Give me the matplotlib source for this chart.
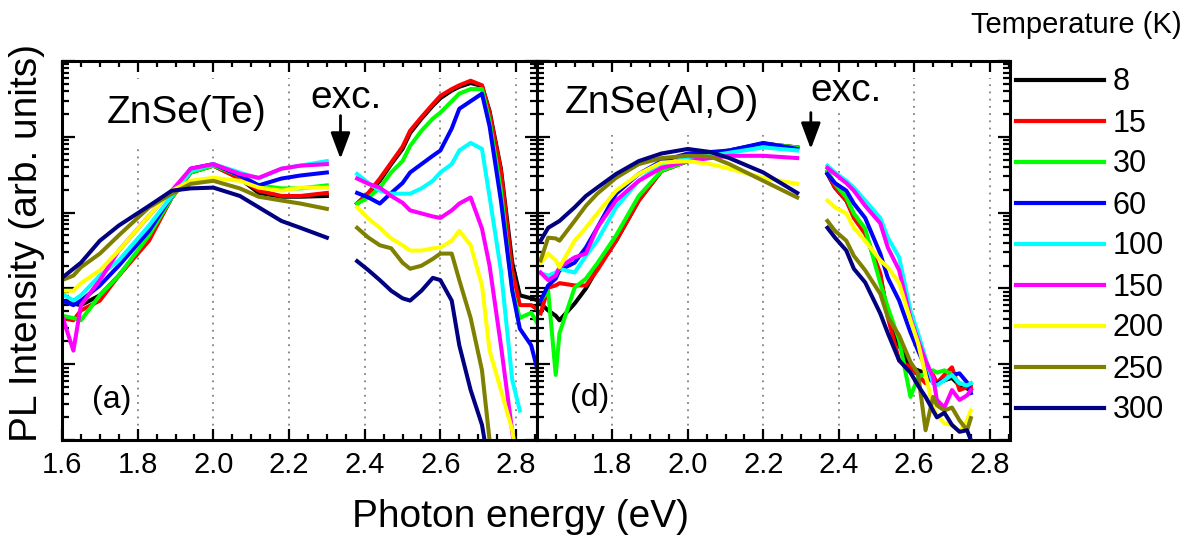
import numpy as np
import matplotlib
matplotlib.use("Agg")
import matplotlib.pyplot as plt
from matplotlib.ticker import LogLocator, MultipleLocator, NullFormatter, FixedLocator
from matplotlib.lines import Line2D

plt.rcParams['font.family'] = ['Liberation Sans', 'DejaVu Sans']

nan = np.nan
temps = ['8', '15', '30', '60', '100', '150', '200', '250', '300']
colors = ['black', 'red', '#00ff00', 'blue', 'cyan', 'magenta', 'yellow', '#808000', '#000080']

# ZnSe(Te): photon energy (eV) and log10 PL intensity; nan = excitation gap
te_energy = [1.60, 1.63, 1.65, 1.70, 1.75, 1.83, 1.89, 1.94, 2.00, 2.07, 2.12, 2.18, 2.23, 2.30,
             2.34,
             2.38, 2.41, 2.44, 2.47, 2.50, 2.52, 2.55, 2.58, 2.60, 2.63, 2.65, 2.68, 2.71, 2.73,
             2.76, 2.79, 2.81, 2.84, 2.86]
te_8 = [1.84, 1.80, 1.78, 1.91, 2.17, 2.66, 3.20, 3.53, 3.62, 3.45, 3.26, 3.21, 3.21, 3.22, nan,
        3.12, 3.26, 3.42, 3.64, 3.84, 4.05, 4.24, 4.41, 4.51, 4.61, 4.66, 4.71, 4.67, 4.34,
        3.58, 2.34, 1.91, 1.87, 1.84]
te_15 = [1.61, 1.58, 1.71, 1.84, 2.17, 2.63, 3.20, 3.53, 3.62, 3.45, 3.29, 3.22, 3.22, 3.26, nan,
         3.12, 3.26, 3.45, 3.66, 3.87, 4.08, 4.26, 4.43, 4.54, 4.63, 4.68, 4.74, 4.68, 4.32,
         3.55, 2.24, 1.78, 1.78, 1.71]
te_30 = [1.64, 1.61, 1.58, 1.91, 2.17, 2.70, 3.20, 3.53, 3.62, 3.49, 3.36, 3.32, 3.32, 3.36, nan,
         3.12, 3.20, 3.33, 3.53, 3.68, 3.88, 4.08, 4.24, 4.32, 4.47, 4.57, 4.63, 4.63, 4.21,
         3.29, 1.97, 1.61, 1.68, 1.51]
te_60 = [1.84, 1.78, 1.84, 2.04, 2.30, 2.76, 3.22, 3.58, 3.64, 3.49, 3.36, 3.45, 3.49, 3.53, nan,
         3.26, 3.20, 3.12, 3.26, 3.39, 3.53, 3.64, 3.75, 3.82, 4.11, 4.37, 4.47, 4.57, 4.14,
         3.16, 1.97, 1.47, 1.25, 0.86]
te_100 = [1.93, 1.84, 1.91, 2.17, 2.37, 2.83, 3.22, 3.55, 3.64, 3.53, 3.45, 3.58, 3.62, 3.68, nan,
          3.51, 3.39, 3.29, 3.25, 3.25, 3.25, 3.32, 3.42, 3.53, 3.64, 3.82, 3.92, 3.84, 3.21,
          2.24, 0.79, 0.39, nan, nan]
te_150 = [1.64, 1.18, 1.78, 2.11, 2.50, 2.96, 3.29, 3.58, 3.64, 3.51, 3.46, 3.58, 3.62, 3.64, nan,
          3.45, 3.38, 3.33, 3.22, 3.13, 3.03, 2.99, 2.95, 2.93, 3.03, 3.12, 3.20, 2.79, 2.30,
          1.25, 0.11, -0.60, nan, nan]
te_200 = [1.97, 1.97, 2.07, 2.24, 2.50, 2.96, 3.29, 3.42, 3.46, 3.42, 3.33, 3.29, 3.33, 3.33, nan,
          3.07, 2.92, 2.80, 2.66, 2.57, 2.50, 2.50, 2.53, 2.54, 2.63, 2.76, 2.57, 2.04, 1.18,
          0.66, 0.13, -0.53, nan, nan]
te_250 = [2.11, 2.17, 2.28, 2.46, 2.70, 3.07, 3.25, 3.38, 3.42, 3.32, 3.21, 3.16, 3.12, 3.05, nan,
          2.80, 2.67, 2.57, 2.53, 2.34, 2.26, 2.30, 2.39, 2.46, 2.46, 2.11, 1.61, 0.92, 0.00,
          -0.53, nan, nan, nan, nan]
te_300 = [2.14, 2.26, 2.34, 2.63, 2.83, 3.09, 3.29, 3.32, 3.33, 3.22, 3.07, 2.89, 2.80, 2.67, nan,
          2.36, 2.24, 2.11, 1.97, 1.87, 1.84, 1.97, 2.14, 2.11, 1.84, 1.25, 0.66, 0.20, -0.39,
          nan, nan, nan, nan, nan]

# ZnSe(Al,O)
al_energy = [1.61, 1.63, 1.65, 1.66, 1.70, 1.73, 1.76, 1.81, 1.87, 1.93, 2.00, 2.06, 2.11, 2.20, 2.29,
             2.33,
             2.37, 2.39, 2.42, 2.44, 2.47, 2.51, 2.53, 2.56, 2.59, 2.61, 2.63, 2.65, 2.66, 2.68,
             2.70, 2.72, 2.74, 2.75]
al_8 = [1.80, 1.71, 1.64, 1.58, 1.80, 2.00, 2.26, 2.63, 3.16, 3.55, 3.68, 3.75, 3.82, 3.91, 3.86, nan,
        3.51, 3.33, 3.16, 2.96, 2.74, 2.17, 1.64, 1.25, 0.96, 0.92, 0.88, 0.82, 0.75, 0.79,
        0.82, 0.72, 0.68, 0.66]
al_15 = [1.67, 2.01, 2.04, 2.07, 2.04, 2.04, 2.24, 2.63, 3.16, 3.55, 3.68, 3.75, 3.82, 3.91, 3.86, nan,
         3.53, 3.33, 3.16, 2.93, 2.72, 2.20, 1.62, 1.05, 0.96, 0.86, 0.75, 0.86, 0.75, 0.86,
         0.96, 0.66, 0.70, 0.70]
al_30 = [1.84, 1.97, 0.86, 1.41, 2.01, 2.13, 2.33, 2.70, 3.22, 3.55, 3.68, 3.78, 3.82, 3.91, 3.86, nan,
         3.55, 3.38, 3.20, 2.99, 2.79, 2.07, 1.75, 1.32, 0.57, 0.83, 0.88, 0.92, 0.89, 0.92,
         0.86, 0.75, 0.72, 0.75]
al_60 = [1.84, 2.04, 2.13, 2.24, 2.34, 2.54, 2.80, 3.25, 3.51, 3.68, 3.78, 3.80, 3.82, 3.92, 3.84, nan,
         3.51, 3.39, 3.29, 3.12, 2.93, 2.46, 2.14, 1.84, 1.42, 1.18, 0.96, 0.75, 0.75, 0.79,
         0.86, 0.88, 0.76, 0.62]
al_100 = [2.20, 2.17, 2.21, 2.26, 2.21, 2.43, 2.63, 3.07, 3.42, 3.64, 3.71, 3.75, 3.79, 3.86, 3.82, nan,
          3.62, 3.53, 3.42, 3.33, 3.16, 2.93, 2.67, 2.41, 1.71, 1.41, 1.08, 0.75, 0.72, 0.79,
          0.86, 0.75, 0.72, 0.75]
al_150 = [2.21, 2.11, 2.17, 2.28, 2.41, 2.46, 2.80, 3.16, 3.42, 3.59, 3.68, 3.72, 3.75, 3.75, 3.72, nan,
          3.59, 3.51, 3.39, 3.29, 3.09, 2.86, 2.54, 2.24, 1.61, 1.32, 1.05, 0.83, 0.53, 0.43,
          0.66, 0.53, 0.59, 0.66]
al_200 = [2.34, 2.46, 2.37, 2.28, 2.63, 2.80, 2.99, 3.29, 3.51, 3.66, 3.68, 3.64, 3.58, 3.46, 3.38, nan,
          3.16, 3.07, 2.99, 2.80, 2.63, 2.37, 2.28, 2.07, 1.58, 1.28, 0.86, 0.43, 0.33, 0.22,
          0.20, 0.11, 0.26, 0.39]
al_250 = [2.37, 2.67, 2.66, 2.63, 2.89, 3.09, 3.25, 3.46, 3.64, 3.72, 3.75, 3.74, 3.64, 3.42, 3.20, nan,
          2.89, 2.76, 2.63, 2.43, 2.24, 1.93, 1.62, 1.38, 1.03, 0.88, 0.13, 0.57, 0.46, 0.39,
          0.43, 0.26, 0.13, 0.29]
al_300 = [2.63, 2.80, 2.86, 2.89, 3.07, 3.22, 3.33, 3.51, 3.68, 3.78, 3.84, 3.80, 3.72, 3.53, 3.26, nan,
          2.80, 2.67, 2.50, 2.26, 2.08, 1.67, 1.41, 1.05, 0.89, 0.72, 0.57, 0.39, 0.30, 0.36,
          0.20, 0.11, 0.13, 0.00]

te_curves = [te_8, te_15, te_30, te_60, te_100, te_150, te_200, te_250, te_300]
al_curves = [al_8, al_15, al_30, al_60, al_100, al_150, al_200, al_250, al_300]

fig = plt.figure(figsize=(11.93, 5.4), dpi=100)
ax1 = fig.add_axes([0.052, 0.185, 0.398, 0.702])
ax2 = fig.add_axes([0.450, 0.185, 0.397, 0.702])


def style(ax, first):
    ax.set_yscale('log')
    ax.set_ylim(1, 1e5)
    ax.set_xlim(1.6, 2.855)
    ax.yaxis.set_major_locator(LogLocator(base=10, numticks=10))
    ax.yaxis.set_minor_locator(LogLocator(base=10, subs=np.arange(2, 10), numticks=20))
    ax.yaxis.set_major_formatter(NullFormatter())
    ax.yaxis.set_minor_formatter(NullFormatter())
    ticks = [1.6, 1.8, 2.0, 2.2, 2.4, 2.6, 2.8] if first else [1.8, 2.0, 2.2, 2.4, 2.6, 2.8]
    ax.xaxis.set_major_locator(FixedLocator(ticks))
    ax.set_xticklabels(['%.1f' % t for t in ticks])
    ax.xaxis.set_minor_locator(MultipleLocator(0.05))
    ax.tick_params(which='both', direction='in', top=True, right=True, bottom=True, left=True,
                   width=1.6, labelsize=21, pad=8)
    ax.tick_params(axis='x', which='major', length=8)
    ax.tick_params(axis='x', which='minor', length=4.5)
    ax.tick_params(axis='y', which='major', length=9)
    ax.tick_params(axis='y', which='minor', length=5)
    for s in ax.spines.values():
        s.set_linewidth(2.2)
    for x in [1.8, 2.0, 2.2, 2.4, 2.6, 2.8]:
        ax.plot([x, x], [0, 0.955], transform=ax.get_xaxis_transform(), color='gray',
                ls=(0, (1, 3)), lw=1.3, zorder=0)


style(ax1, True)
style(ax2, False)

for vals, c in zip(te_curves, colors):
    ax1.plot(te_energy, 10 ** np.array(vals), color=c, lw=2.9, solid_joinstyle='round')
for vals, c in zip(al_curves, colors):
    ax2.plot(al_energy, 10 ** np.array(vals), color=c, lw=2.9, solid_joinstyle='round')

box = dict(boxstyle='square,pad=0.35', fc='white', ec='none')
ax1.text(0.095, 0.862, 'ZnSe(Te)', transform=ax1.transAxes, fontsize=28, va='center', ha='left',
         bbox=box, zorder=1)
ax2.text(0.059, 0.888, 'ZnSe(Al,O)', transform=ax2.transAxes, fontsize=28, va='center', ha='left',
         bbox=box, zorder=1)
ax1.text(0.063, 0.105, '(a)', transform=ax1.transAxes, fontsize=23, va='center', ha='left')
ax2.text(0.07, 0.11, '(d)', transform=ax2.transAxes, fontsize=23, va='center', ha='left')

small = dict(boxstyle='square,pad=0.1', fc='white', ec='none')
ax1.text(2.35, 10 ** 4.51, 'exc.', fontsize=28, ha='center', va='center', bbox=small, zorder=1)
ax2.text(2.42, 10 ** 4.61, 'exc.', fontsize=28, ha='center', va='center', bbox=small, zorder=1)
arrow = dict(arrowstyle='-|>,head_length=0.8,head_width=0.3', lw=2, color='black', mutation_scale=20,
             shrinkA=0, shrinkB=0)
ax1.annotate('', xy=(2.336, 10 ** 3.71), xytext=(2.336, 10 ** 4.28), arrowprops=arrow)
ax2.annotate('', xy=(2.326, 10 ** 3.84), xytext=(2.326, 10 ** 4.32), arrowprops=arrow)

fig.text(0.436, 0.043, 'Photon energy (eV)', fontsize=28, ha='center', va='center')
fig.text(0.023, 0.55, 'PL Intensity (arb. units)', fontsize=28, ha='center', va='center',
         rotation=90)

fig.text(0.902, 0.954, 'Temperature (K)', fontsize=21, ha='center', va='center')
handles = [Line2D([], [], color=c, lw=3) for c in colors]
fig.legend(handles, temps, loc='upper left', bbox_to_anchor=(0.852, 0.875), frameon=False,
           fontsize=22, handlelength=2.85, handletextpad=0.3, labelspacing=0.36, borderpad=0,
           borderaxespad=0)

fig.savefig('out.png', dpi=100)
